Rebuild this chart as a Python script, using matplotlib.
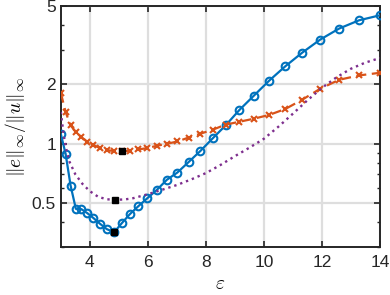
import numpy as np
import matplotlib
matplotlib.use("Agg")
import matplotlib.pyplot as plt
from matplotlib.ticker import LogLocator, NullFormatter, FixedLocator, FixedFormatter

# shape parameter grid
eps = [3.000, 3.164, 3.336, 3.518, 3.710, 3.912, 4.126, 4.351, 4.588, 4.839,
       5.103, 5.381, 5.675, 5.985, 6.311, 6.656, 7.019, 7.402, 7.806, 8.232,
       8.681, 9.155, 9.655, 10.181, 10.737, 11.323, 11.941, 12.592, 13.279, 14.000]

err_blue = [1.12, 0.89, 0.614, 0.468, 0.466, 0.445, 0.420, 0.393, 0.369, 0.356,
            0.396, 0.440, 0.483, 0.530, 0.584, 0.657, 0.715, 0.807, 0.918, 1.064,
            1.239, 1.483, 1.753, 2.088, 2.469, 2.897, 3.373, 3.836, 4.225, 4.48]

err_orange = [1.81, 1.45, 1.24, 1.147, 1.081, 1.024, 0.985, 0.951, 0.929, 0.918,
              0.914, 0.922, 0.936, 0.951, 0.977, 1.00, 1.027, 1.075, 1.124, 1.178,
              1.25, 1.293, 1.34, 1.40, 1.50, 1.673, 1.90, 2.11, 2.22, 2.29]

eps_purple = [3.0, 3.1, 3.2, 3.3, 3.5, 3.75, 4.0, 4.3, 4.6, 4.86, 5.2, 5.5, 6.0,
              6.5, 7.0, 7.5, 8.0, 8.5, 9.0, 9.5, 10.0, 10.5, 11.0, 11.5, 12.0,
              12.5, 13.0, 13.5, 14.0]
err_purple = [1.45, 1.10, 0.92, 0.81, 0.70, 0.625, 0.575, 0.537, 0.523, 0.520,
              0.522, 0.530, 0.555, 0.585, 0.618, 0.66, 0.71, 0.78, 0.865, 0.955,
              1.06, 1.22, 1.42, 1.66, 1.92, 2.17, 2.40, 2.58, 2.72]

# optimal points (black squares)
opt_eps = [4.839, 5.103, 4.86]
opt_err = [0.356, 0.914, 0.520]

plt.rcParams['font.family'] = ['Liberation Sans', 'DejaVu Sans']
plt.rcParams['mathtext.fontset'] = 'cm'

fig = plt.figure(figsize=(3.9, 2.95), dpi=100)
ax = fig.add_axes([0.156, 0.163, 0.818, 0.817])

blue = '#0072BD'
orange = '#D95319'
purple = '#7E2F8E'

ax.plot(eps, err_blue, '-o', color=blue, lw=1.6, ms=5.5, mew=1.5,
        mfc='none', zorder=3)
ax.plot(eps, err_orange, '--x', color=orange, lw=1.6, ms=5, mew=1.5,
        dashes=(4.5, 2.5), zorder=3)
ax.plot(eps_purple, err_purple, ':', color=purple, lw=1.7, zorder=3)
ax.plot(opt_eps, opt_err, 's', color='black', ms=5, zorder=4)

ax.set_yscale('log')
ax.set_xlim(3, 14)
ax.set_ylim(0.3, 5)

ax.xaxis.set_major_locator(FixedLocator([4, 6, 8, 10, 12, 14]))
ax.yaxis.set_major_locator(FixedLocator([0.5, 1, 2, 5]))
ax.yaxis.set_major_formatter(FixedFormatter(['0.5', '1', '2', '5']))
ax.yaxis.set_minor_locator(LogLocator(base=10, subs=np.arange(2, 10)))
ax.yaxis.set_minor_formatter(NullFormatter())

ax.grid(True, which='major', color='#dedede', lw=1.6)
ax.set_axisbelow(True)

ax.tick_params(which='both', direction='in', top=True, right=True,
               color='#262626', labelsize=12.5, labelcolor='#262626')
ax.tick_params(which='major', length=4, width=1.2)
ax.tick_params(which='minor', length=2.5, width=1.0)
ax.tick_params(axis='x', pad=6)
for s in ax.spines.values():
    s.set_color('#262626')
    s.set_linewidth(1.4)

ax.set_xlabel(r'$\varepsilon$', fontsize=14, labelpad=4)
ax.set_ylabel(r'$\|e\|_\infty/\|u\|_\infty$', fontsize=14, labelpad=3)

fig.savefig('out.png', dpi=100)
